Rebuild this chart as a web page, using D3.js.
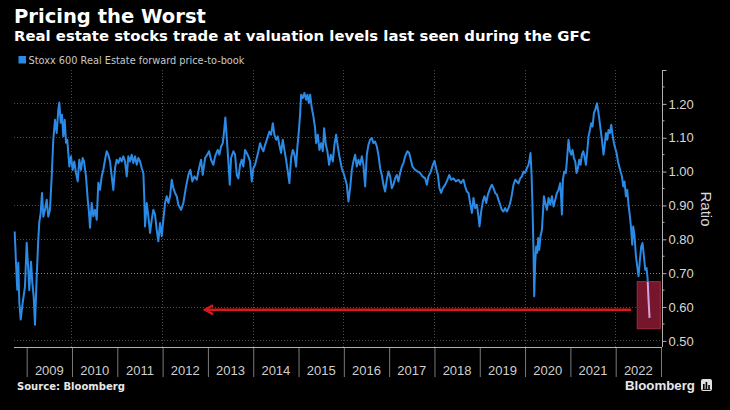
<!DOCTYPE html>
<html><head><meta charset="utf-8">
<script src="https://cdn.jsdelivr.net/npm/d3@7"></script>
<style>
html,body{margin:0;padding:0;background:#000;}
svg{display:block;}
</style></head><body>
<svg id="chart" width="730" height="410"></svg>
<script>
// ---- DATA ----
const dates = [
2008.735,2008.764,2008.792,2008.815,2008.837,2008.868,2008.912,2008.962,2009.000,2009.035,2009.057,2009.095,2009.124,2009.155,2009.183,2009.221,2009.256,2009.278,2009.309,2009.338,2009.367,2009.404,2009.442,2009.477,2009.514,2009.552,2009.587,2009.625,2009.662,2009.698,2009.720,2009.751,2009.779,2009.808,2009.839,2009.868,2009.896,2009.941,2009.978,
2010.016,2010.051,2010.089,2010.126,2010.161,2010.199,2010.236,2010.265,2010.309,2010.347,2010.376,2010.398,2010.435,2010.471,2010.508,2010.546,2010.581,2010.618,2010.656,2010.691,2010.729,2010.766,2010.802,2010.839,2010.877,2010.912,2010.950,2010.987,
2011.023,2011.060,2011.098,2011.133,2011.170,2011.208,2011.243,2011.281,2011.318,2011.354,2011.391,2011.429,2011.464,2011.502,2011.539,2011.575,2011.597,2011.612,2011.650,2011.685,2011.723,2011.760,2011.795,2011.833,2011.870,2011.906,2011.943,2011.981,
2012.016,2012.054,2012.091,2012.127,2012.164,2012.202,2012.237,2012.274,2012.312,2012.347,2012.407,2012.458,2012.511,2012.568,2012.612,2012.656,2012.701,2012.754,2012.804,2012.849,2012.886,2012.937,2012.988,
2013.025,2013.069,2013.120,2013.158,2013.217,2013.253,2013.290,2013.328,2013.356,2013.385,2013.416,2013.451,2013.482,2013.511,2013.562,2013.599,2013.637,2013.672,2013.710,2013.747,2013.782,2013.820,2013.857,2013.893,2013.930,2013.968,
2014.003,2014.041,2014.078,2014.114,2014.151,2014.189,2014.224,2014.262,2014.312,2014.357,2014.394,2014.432,2014.467,2014.505,2014.542,2014.577,2014.615,2014.652,2014.688,2014.725,2014.763,2014.798,2014.836,2014.873,2014.909,2014.946,2014.975,
2015.006,2015.034,2015.057,2015.094,2015.129,2015.167,2015.196,2015.227,2015.256,2015.293,2015.328,2015.366,2015.388,2015.426,2015.461,2015.499,2015.536,2015.565,2015.602,2015.637,2015.675,2015.712,2015.757,2015.792,2015.829,2015.867,2015.902,2015.955,
2016.006,2016.066,2016.101,2016.139,2016.176,2016.211,2016.249,2016.286,2016.322,2016.359,2016.397,2016.432,2016.470,2016.507,2016.543,2016.580,2016.618,2016.653,2016.690,2016.728,2016.763,2016.801,2016.838,2016.874,2016.911,2016.949,2016.984,
2017.022,2017.059,2017.094,2017.132,2017.169,2017.205,2017.242,2017.280,2017.315,2017.353,2017.403,2017.441,2017.478,2017.514,2017.574,2017.633,2017.684,2017.735,2017.794,2017.832,2017.867,2017.920,2017.964,
2018.000,2018.037,2018.075,2018.110,2018.148,2018.185,2018.236,2018.287,2018.325,2018.369,2018.420,2018.472,2018.530,2018.583,2018.640,2018.678,2018.715,2018.751,2018.788,2018.826,2018.861,2018.899,2018.936,2018.971,2018.994,
2019.031,2019.069,2019.104,2019.142,2019.179,2019.230,2019.267,2019.303,2019.340,2019.378,2019.413,2019.450,2019.488,2019.523,2019.561,2019.598,2019.634,2019.671,2019.709,2019.744,2019.782,2019.819,2019.854,2019.892,2019.930,2019.965,
2020.003,2020.040,2020.075,2020.098,2020.120,2020.142,2020.164,2020.186,2020.201,2020.223,2020.245,2020.268,2020.290,2020.312,2020.341,2020.372,2020.394,2020.416,2020.445,2020.482,2020.518,2020.555,2020.593,2020.628,2020.665,2020.703,2020.738,2020.776,2020.798,2020.813,2020.835,2020.864,2020.901,2020.930,2020.959,2020.990,
2021.018,2021.047,2021.078,2021.107,2021.135,2021.166,2021.195,2021.224,2021.255,2021.283,2021.312,2021.343,2021.372,2021.400,2021.431,2021.460,2021.489,2021.520,2021.548,2021.586,2021.621,2021.659,2021.696,2021.731,2021.754,2021.784,2021.813,2021.842,2021.873,2021.902,2021.930,2021.961,2021.990,
2022.019,2022.050,2022.078,2022.107,2022.138,2022.167,2022.195,2022.226,2022.255,2022.283,2022.314,2022.343,2022.365,2022.387,2022.416,2022.447,2022.475,2022.504,2022.535,2022.564,2022.592,2022.623,2022.652,2022.681,2022.703,2022.725,2022.747
];
const ratio = [
0.823,0.731,0.651,0.731,0.613,0.563,0.613,0.660,0.790,0.710,0.650,0.734,0.672,0.630,0.548,0.690,0.800,0.850,0.878,0.937,0.867,0.887,0.917,0.867,0.887,0.985,1.094,1.153,1.114,1.182,1.204,1.144,1.168,1.104,1.153,1.085,1.094,1.015,1.045,
1.005,1.030,0.996,0.971,1.035,1.005,1.040,1.030,0.986,0.917,0.878,0.834,0.907,0.868,0.887,0.858,0.967,0.946,0.986,1.005,1.035,1.060,1.050,1.030,0.986,0.946,1.011,1.035,
1.025,1.040,1.030,1.045,1.030,0.986,1.045,1.030,1.050,1.025,1.045,1.020,1.040,1.030,1.010,0.995,0.917,0.838,0.907,0.868,0.819,0.858,0.887,0.873,0.828,0.794,0.848,0.809,
0.858,0.907,0.927,0.907,0.927,0.976,0.951,0.937,0.927,0.902,0.887,0.907,0.951,0.990,1.005,0.971,0.986,0.976,1.010,1.035,0.990,1.040,1.050,
1.060,1.035,1.020,1.045,1.064,1.050,1.074,1.084,1.118,1.160,1.099,1.030,0.961,1.040,1.060,1.050,0.990,0.980,1.020,1.035,1.015,1.064,1.055,1.045,1.030,0.971,
1.010,1.020,1.040,1.060,1.084,1.069,1.060,1.079,1.099,1.118,1.109,1.143,1.109,1.094,1.104,1.079,1.055,1.094,1.064,1.035,1.000,0.966,1.040,1.064,1.050,1.015,1.074,
1.118,1.168,1.227,1.217,1.232,1.212,1.227,1.202,1.227,1.187,1.163,1.128,1.084,1.109,1.064,1.084,1.060,1.128,1.079,1.060,1.020,1.050,1.030,1.079,1.109,1.074,1.045,1.010,
0.990,0.961,0.912,0.951,1.005,1.030,1.050,1.015,1.035,1.020,1.045,1.020,0.956,1.050,1.079,1.094,1.099,1.084,1.089,1.074,1.050,1.010,0.990,0.961,0.941,0.976,1.000,
0.986,0.951,0.961,0.980,0.990,0.971,0.996,1.015,1.025,1.045,1.060,1.055,1.035,1.015,1.005,1.000,0.996,0.986,0.980,0.961,0.986,1.000,1.020,
1.032,1.010,0.990,0.951,0.937,0.951,0.961,0.976,0.990,0.976,0.980,0.971,0.976,0.966,0.976,0.956,0.941,0.937,0.907,0.878,0.922,0.892,0.902,0.868,0.838,
0.882,0.912,0.927,0.907,0.932,0.951,0.961,0.951,0.937,0.932,0.917,0.902,0.887,0.882,0.892,0.882,0.892,0.907,0.932,0.961,0.976,0.970,0.965,0.980,0.986,1.000,
0.996,1.010,1.020,1.035,1.055,0.996,0.897,0.769,0.632,0.730,0.779,0.760,0.804,0.769,0.809,0.828,0.878,0.927,0.907,0.887,0.922,0.902,0.927,0.897,0.917,0.937,0.946,0.966,0.917,0.873,0.976,1.000,0.996,1.045,1.094,1.060,
1.050,1.064,1.040,1.030,0.996,1.010,1.035,1.020,1.050,1.060,1.045,1.020,1.060,1.104,1.123,1.143,1.133,1.173,1.182,1.202,1.173,1.133,1.094,1.050,1.074,1.114,1.094,1.123,1.114,1.138,1.109,1.084,1.069,
1.055,1.030,1.015,1.000,0.986,0.956,0.971,0.927,0.946,0.902,0.868,0.828,0.784,0.838,0.809,0.750,0.720,0.691,0.740,0.779,0.789,0.750,0.710,0.715,0.686,0.622,0.568
];
const yTicks = [0.5, 0.6, 0.7, 0.8, 0.9, 1.0, 1.1, 1.2, 1.3];
const yMinorTicks = [0.55, 0.65, 0.75, 0.85, 0.95, 1.05, 1.15, 1.25];
const yearTicks = [2009,2010,2011,2012,2013,2014,2015,2016,2017,2018,2019,2020,2021,2022,2023];
const yearLabels = ["2009","2010","2011","2012","2013","2014","2015","2016","2017","2018","2019","2020","2021","2022"];
const vGridYears = [2010, 2012, 2014, 2016, 2018, 2020, 2022];
const arrowDates = [2012.937, 2022.343];
const arrowValue = 0.592;
const boxDates = [2022.475, 2022.985];
const boxValues = [0.536, 0.675];

const titleText = "Pricing the Worst";
const subtitleText = "Real estate stocks trade at valuation levels last seen during the GFC";
const legendText = "Stoxx 600 Real Estate forward price-to-book";
const sourceText = "Source: Bloomberg";
const brandText = "Bloomberg";
const axisTitle = "Ratio";

// ---- LAYOUT ----
const svg = d3.select("#chart");
svg.append("rect").attr("width",730).attr("height",410).attr("fill","#000");
const L = 14, R = 661, T = 70, B = 347;
const x = d3.scaleLinear().domain([2008.72, 2023.0]).range([L, R]);
const y = d3.scaleLinear().domain([0.482, 1.30]).range([B, T]);

function fitText(sel, base, target){
  sel.attr("font-size", base);
  const w = sel.node().getComputedTextLength();
  sel.attr("font-size", (base*target/w).toFixed(2));
}

// title block
const title = svg.append("text").attr("x",14).attr("y",23).attr("fill","#fff")
  .attr("font-family","DejaVu Sans").attr("font-weight","bold").text(titleText);
fitText(title, 20, 192);
const sub = svg.append("text").attr("x",14).attr("y",41).attr("fill","#fff")
  .attr("font-family","DejaVu Sans").attr("font-weight","bold").text(subtitleText);
fitText(sub, 13, 577);
svg.append("rect").attr("x",18.5).attr("y",56).attr("width",7.5).attr("height",7.5).attr("fill","#2b8ae5");
const leg = svg.append("text").attr("x",28.5).attr("y",63.5).attr("fill","#c8c8c8")
  .attr("font-family","DejaVu Sans").text(legendText);
fitText(leg, 10, 216);

// grid
const grid = svg.append("g");
grid.selectAll("line.h").data(yTicks.filter(d=>d<1.25)).join("line")
  .attr("x1",L).attr("x2",R).attr("y1",d=>y(d)).attr("y2",d=>y(d))
  .attr("stroke",d=>Math.abs(d-0.7)<1e-6?"#8a8a8a":"#4a4a4a").attr("stroke-width",1)
  .attr("stroke-dasharray","1,2").attr("shape-rendering","crispEdges");
grid.selectAll("line.v").data(vGridYears).join("line")
  .attr("x1",d=>x(d)).attr("x2",d=>x(d)).attr("y1",T).attr("y2",B)
  .attr("stroke","#4a4a4a").attr("stroke-width",1)
  .attr("stroke-dasharray","1,2").attr("shape-rendering","crispEdges");

// bottom axis: year boundary ticks
const xAxis = d3.axisBottom(x).tickValues(yearTicks).tickSize(30).tickFormat("");
const gx = svg.append("g").attr("transform",`translate(0,${B})`).call(xAxis);
gx.select(".domain").remove();
gx.selectAll(".tick line").attr("stroke","#7a7a7a");
svg.append("line").attr("x1",L).attr("x2",R+1).attr("y1",B+0.5).attr("y2",B+0.5).attr("stroke","#b0b0b0");
svg.selectAll("text.yr").data(yearLabels).join("text").attr("class","yr")
  .attr("x",(d)=>x(+d+0.5)).attr("y",375).attr("text-anchor","middle")
  .attr("font-family","Liberation Sans, Arial, sans-serif").attr("font-size",13)
  .attr("fill","#cfcfcf").text(d=>d);

// right axis
const yAxis = d3.axisRight(y).tickValues(yTicks).tickSize(4)
  .tickFormat(d=> d>1.25 ? "" : d3.format(".2f")(d));
const gy = svg.append("g").attr("transform",`translate(${R+1.5},0)`).call(yAxis);
gy.select(".domain").attr("stroke","#b0b0b0").attr("d",`M0,${T}V${B}`);
gy.selectAll(".tick line").attr("stroke","#b0b0b0");
gy.selectAll(".tick text").attr("fill","#d8d8d8").attr("font-size",13)
  .attr("font-family","Liberation Sans, Arial, sans-serif").attr("x",6);
gy.selectAll("line.minor").data(yMinorTicks).join("line")
  .attr("x1",0).attr("x2",2).attr("y1",d=>y(d)).attr("y2",d=>y(d)).attr("stroke","#b0b0b0");
svg.append("text").attr("transform","translate(701,209) rotate(90)").attr("text-anchor","middle")
  .attr("font-family","Liberation Sans, Arial, sans-serif").attr("font-size",15)
  .attr("fill","#d8d8d8").text(axisTitle);

// series
const pts = dates.map((d,i)=>[d, ratio[i]]);
const lineGen = d3.line().x(d=>x(d[0])).y(d=>y(d[1]));
svg.append("path").datum(pts).attr("d",lineGen).attr("fill","none")
  .attr("stroke","#2b8ae5").attr("stroke-width",2).attr("stroke-linejoin","round");

// annotation: box
const bx = x(boxDates[0]), bw = x(boxDates[1]) - x(boxDates[0]);
const by = y(boxValues[1]), bh = y(boxValues[0]) - y(boxValues[1]);
svg.append("defs").append("clipPath").attr("id","boxclip")
  .append("rect").attr("x",bx).attr("y",by).attr("width",bw).attr("height",bh);
svg.append("rect").attr("x",bx).attr("y",by).attr("width",bw).attr("height",bh)
  .attr("fill","#801830").attr("fill-opacity",0.92).attr("stroke","#a3293f").attr("stroke-width",1);
svg.append("path").datum(pts).attr("d",lineGen).attr("fill","none").attr("clip-path","url(#boxclip)")
  .attr("stroke","#d6a3d8").attr("stroke-width",2);

// annotation: arrow
const ax0 = x(arrowDates[0]), ax1 = x(arrowDates[1]), ay = y(arrowValue);
svg.append("line").attr("x1",ax0+1).attr("x2",ax1).attr("y1",ay).attr("y2",ay)
  .attr("stroke","#d7191f").attr("stroke-width",2.5);
svg.append("path").attr("d",`M${ax0+8},${ay-4.5}L${ax0},${ay}L${ax0+8},${ay+4.5}`)
  .attr("fill","none").attr("stroke","#d7191f").attr("stroke-width",2.5);

// footer
const src = svg.append("text").attr("x",17).attr("y",390).attr("fill","#e8e8e8")
  .attr("font-family","DejaVu Sans").attr("font-weight","bold").text(sourceText);
fitText(src, 10, 108);
const brand = svg.append("text").attr("x",625).attr("y",390).attr("fill","#e8e8e8")
  .attr("font-family","Liberation Sans, Arial, sans-serif").attr("font-weight","bold").text(brandText);
fitText(brand, 14, 70);
const icon = svg.append("g").attr("transform","translate(701,379)");
icon.append("rect").attr("width",11).attr("height",12).attr("rx",2).attr("fill","#e0e0e0");
icon.selectAll("rect.bar").data([[2,5,1.6,5],[4.6,3,1.6,7],[7.2,6,1.6,4]]).join("rect")
  .attr("x",d=>d[0]).attr("y",d=>d[1]).attr("width",d=>d[2]).attr("height",d=>d[3]).attr("fill","#000");
icon.append("rect").attr("x",1.5).attr("y",10).attr("width",8).attr("height",0.9).attr("fill","#000");
</script>
</body></html>
